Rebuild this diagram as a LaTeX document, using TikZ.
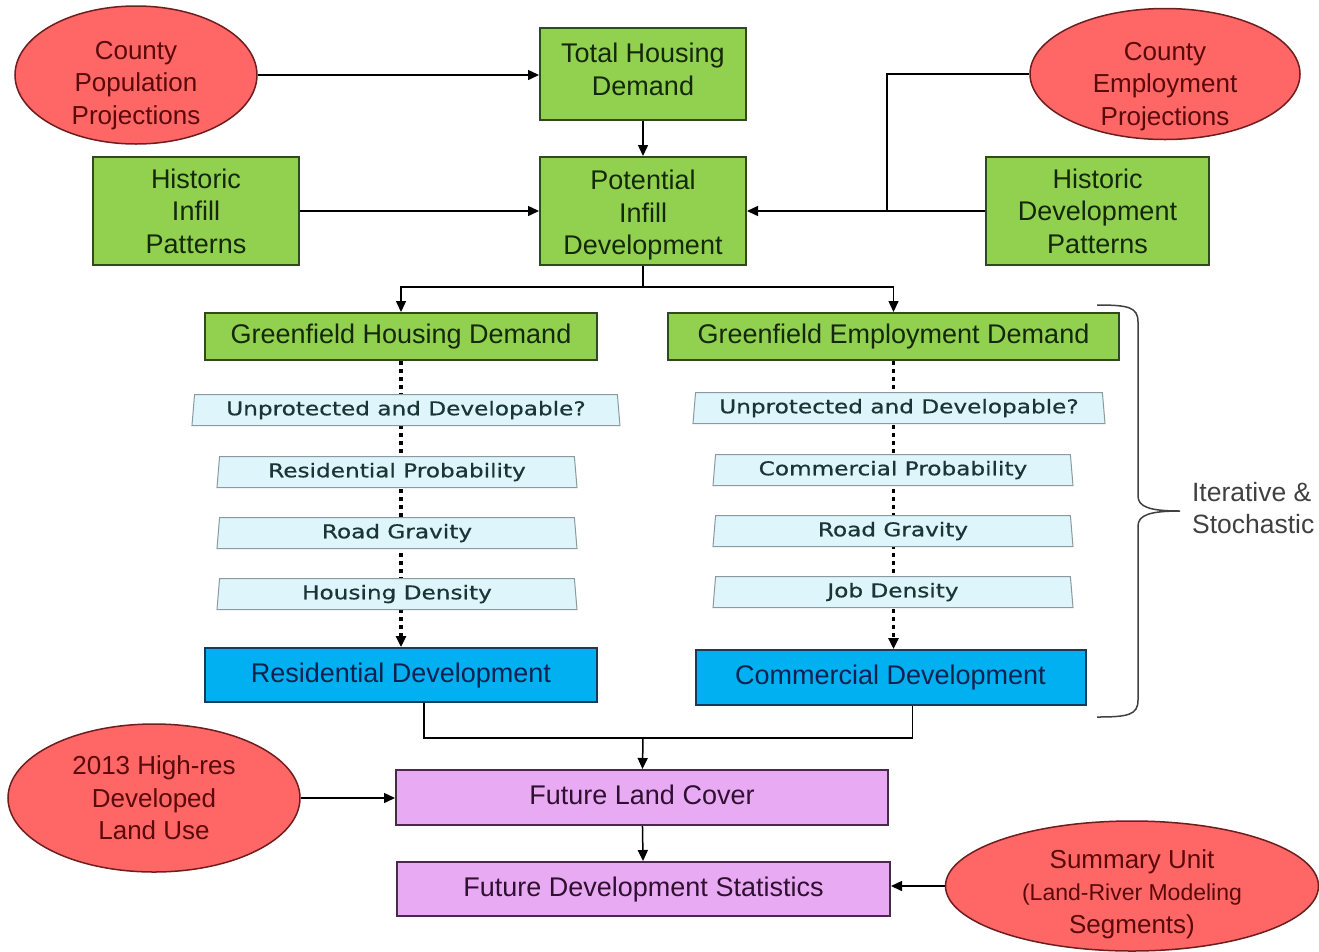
\documentclass[tikz,border=0pt]{standalone}
\usepackage{fontspec}
\setmainfont{Liberation Sans}
\newfontfamily\filtro{DejaVu Sans}[FakeStretch=1.22, FakeBold=0.6]
\usepackage{tikz}
\usetikzlibrary{positioning,arrows.meta,shapes.geometric,backgrounds}
\definecolor{verde}{HTML}{92D050}
\definecolor{verdeosc}{HTML}{2E4A1E}
\definecolor{textoverde}{HTML}{14280A}
\definecolor{rojo}{HTML}{FF6666}
\definecolor{rojoosc}{HTML}{6E1E1E}
\definecolor{textorojo}{HTML}{5A0A0A}
\definecolor{azul}{HTML}{00B0F0}
\definecolor{azulosc}{HTML}{1C3A55}
\definecolor{textoazul}{HTML}{0E2250}
\definecolor{rosa}{HTML}{E9AAF4}
\definecolor{rosaosc}{HTML}{4A2A4A}
\definecolor{textorosa}{HTML}{301030}
\definecolor{cian}{HTML}{DDF5FB}
\definecolor{cianosc}{HTML}{8A9A9E}
\definecolor{textocian}{HTML}{1A3535}
\definecolor{gris25}{gray}{.25}
% struts para bajar o subir el texto dentro de un nodo
\newcommand{\alto}[1]{\rule{0pt}{#1}}
\newcommand{\hondo}[1]{\rule[-#1]{0pt}{0pt}}
\begin{document}
\begin{tikzpicture}[
    x=1pt, y=-1pt,
    font=\fontsize{27}{32.5}\selectfont,
    line width=1.5pt,
    entrada/.style={ellipse, draw=rojoosc, fill=rojo, text=textorojo,
      line width=1.5pt, align=center, inner sep=0pt,
      font=\fontsize{26}{32.5}\selectfont},
    caja/.style={rectangle, draw=verdeosc, fill=verde, text=textoverde,
      line width=2pt, align=center, inner sep=0pt},
    filtro/.style={trapezium, trapezium angle=82, trapezium stretches body,
      draw=cianosc, fill=cian, text=textocian, line width=1pt,
      minimum height=31pt, minimum width=360pt, inner sep=0pt,
      font=\filtro\fontsize{19}{22}\selectfont},
    desarrollo/.style={rectangle, draw=azulosc, fill=azul, text=textoazul,
      line width=2pt, align=center, inner sep=0pt,
      text height=20pt, text depth=6pt},
    salida/.style={rectangle, draw=rosaosc, fill=rosa, text=textorosa,
      line width=2pt, align=center, inner sep=0pt,
      text height=20pt, text depth=6pt},
    punteado/.style={line width=3.5pt, dash pattern=on 3.5pt off 4.5pt},
    >={Triangle[length=11pt,width=10pt]}
  ]
    \useasboundingbox (0,0) rectangle (1319,951);

    % entradas del condado
    \node[entrada, inner ysep=-10pt, minimum width=242pt, minimum height=138pt] (pob)
      at (136,75) {\alto{39pt}County\\Population\\Projections};
    \node[entrada, inner ysep=-12pt, minimum width=270pt, minimum height=131pt] (emp)
      at (1165,74) {\alto{43pt}County\\Employment\\Projections};

    % demanda e infill
    \node[caja, minimum width=206pt, minimum height=92pt] (dem) at (643,74)
      {Total Housing\\Demand\hondo{10pt}};
    \node[caja, minimum width=206pt, minimum height=108pt] (inf) at (643,211)
      {\alto{28pt}Potential\\Infill\\Development};
    \node[caja, minimum width=206pt, minimum height=108pt] (hinf) at (196,211)
      {Historic\\Infill\\Patterns};
    \node[caja, minimum width=223pt, minimum height=108pt] (hdes) at (1097.5,211)
      {Historic\\Development\\Patterns};

    % greenfield
    \node[caja, minimum width=392pt, minimum height=47pt] (gv) at (401,336.5)
      {Greenfield Housing Demand};
    \node[caja, minimum width=451pt, minimum height=47pt] (ge) at (893.5,336.5)
      {Greenfield Employment Demand};

    % filtros residenciales
    \node[filtro, minimum width=428pt, below=33pt of gv, xshift=5pt] (fv1)
      {Unprotected and Developable?};
    \node[filtro, below=30pt of fv1, xshift=-9pt] (fv2) {Residential Probability};
    \node[filtro, below=29pt of fv2] (fv3) {Road Gravity};
    \node[filtro, below=29pt of fv3] (fv4) {Housing Density};
    \node[desarrollo, minimum width=392pt, minimum height=54pt,
      below=37pt of fv4, xshift=4pt] (dres) {Residential Development};

    % filtros comerciales
    \node[filtro, minimum width=412pt, below=31pt of ge, xshift=5.5pt] (fe1)
      {Unprotected and Developable?};
    \node[filtro, below=30pt of fe1, xshift=-6pt] (fe2) {Commercial Probability};
    \node[filtro, below=29pt of fe2] (fe3) {Road Gravity};
    \node[filtro, below=29pt of fe3] (fe4) {Job Density};
    \node[desarrollo, minimum width=390pt, minimum height=55pt,
      below=41pt of fe4, xshift=-2.5pt] (dcom) {Commercial Development};

    % salidas
    \node[salida, minimum width=492pt, minimum height=55pt] (cob) at (642,797.5)
      {Future Land Cover};
    \node[salida, minimum width=493pt, minimum height=54pt] (est) at (643.5,889)
      {Future Development Statistics};
    \node[entrada, minimum width=292pt, minimum height=148pt] (uso) at (154,798)
      {2013 High-res\\Developed\\Land Use};
    \node[entrada, inner ysep=-8pt, minimum width=373pt, minimum height=130pt] (unid)
      at (1132,886)
      {\alto{35pt}Summary Unit\\\fontsize{23}{29}\selectfont(Land-River Modeling\\Segments)};

    % llave
    \draw[gris25, line width=1.5pt] (1097,305) .. controls (1128,305) and (1138,307) .. (1138,322)
      -- (1138,496) .. controls (1138,507) and (1150,511) .. (1180,511)
      .. controls (1150,511) and (1138,515) .. (1138,526)
      -- (1138,700) .. controls (1138,715) and (1128,717) .. (1097,717);
    \node[anchor=west, align=left, text=gris25, font=\fontsize{26.5}{32}\selectfont]
      (iter) at (1188,508) {Iterative \&\\Stochastic};

    \coordinate (cruce) at (887,211);
    \coordinate (reparto) at (643,287);
    \coordinate (union) at (643,738);

    \draw[->] (pob.east) -- (pob.east -| dem.west);
    \draw[->] (dem) -- (inf);
    \draw[->] (hinf) -- (inf);
    \draw (emp.west) -| (cruce);
    \draw[->] (hdes) -- (inf);
    \draw[->] (inf) -- (reparto) -| (gv);
    \draw[->] (reparto) -| (ge);
    \begin{scope}[on background layer]
      \draw[punteado, ->] (gv.south) -- (gv.south |- dres.north);
      \draw[punteado, ->] (ge.south) -- (ge.south |- dcom.north);
    \end{scope}
    \draw ([xshift=23pt]dres.south) |- (union) -| ([xshift=22pt]dcom.south);
    \draw[->] (union) -- (cob);
    \draw[->] (uso.east) -- (uso.east -| cob.west);
    \draw[->] (cob) -- (est);
    \draw[->] (unid.west) -- (unid.west -| est.east);
  \end{tikzpicture}
\end{document}
